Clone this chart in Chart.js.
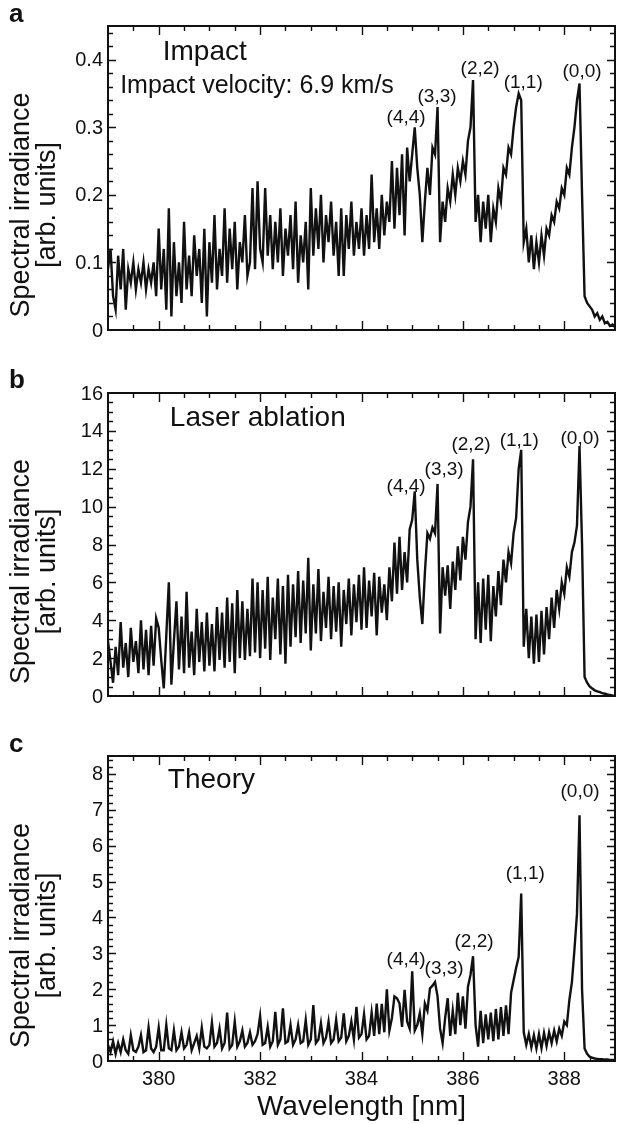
<!DOCTYPE html>
<html>
<head>
<meta charset="utf-8">
<script src="https://cdn.jsdelivr.net/npm/chart.js@4.4.1/dist/chart.umd.min.js"></script>
<style>
  html, body { margin: 0; background: #fff; }
  .figure { position: relative; width: 618px; height: 1124px; overflow: hidden; }
  .panel { position: absolute; left: 0; width: 618px; }
  .panel canvas { display: block; }
</style>
</head>
<body>
<div class="figure">
  <div class="panel" style="top:0;height:355px"><canvas id="chart-a" width="618" height="355"></canvas></div>
  <div class="panel" style="top:355px;height:370px"><canvas id="chart-b" width="618" height="370"></canvas></div>
  <div class="panel" style="top:725px;height:399px"><canvas id="chart-c" width="618" height="399"></canvas></div>
</div>
<script>
// wavelength grid [nm], shared by all three spectra
const wavelengths = [
  379.00, 379.05, 379.10, 379.15, 379.20, 379.25, 379.30, 379.35, 379.40, 379.45, 379.50, 379.55, 379.60, 379.65, 379.70, 379.75, 379.80, 379.85, 379.90, 379.95,
  380.00, 380.05, 380.10, 380.15, 380.20, 380.25, 380.30, 380.35, 380.40, 380.45, 380.50, 380.55, 380.60, 380.65, 380.70, 380.75, 380.80, 380.85, 380.90, 380.95,
  381.00, 381.05, 381.10, 381.15, 381.20, 381.25, 381.30, 381.35, 381.40, 381.45, 381.50, 381.55, 381.60, 381.65, 381.70, 381.75, 381.80, 381.85, 381.90, 381.95,
  382.00, 382.05, 382.10, 382.15, 382.20, 382.25, 382.30, 382.35, 382.40, 382.45, 382.50, 382.55, 382.60, 382.65, 382.70, 382.75, 382.80, 382.85, 382.90, 382.95,
  383.00, 383.05, 383.10, 383.15, 383.20, 383.25, 383.30, 383.35, 383.40, 383.45, 383.50, 383.55, 383.60, 383.65, 383.70, 383.75, 383.80, 383.85, 383.90, 383.95,
  384.00, 384.05, 384.10, 384.15, 384.20, 384.25, 384.30, 384.35, 384.40, 384.45, 384.50, 384.55, 384.60, 384.65, 384.70, 384.75, 384.80, 384.85, 384.90, 384.95,
  385.00, 385.05, 385.10, 385.15, 385.20, 385.25, 385.30, 385.35, 385.40, 385.45, 385.50, 385.55, 385.60, 385.65, 385.70, 385.75, 385.80, 385.85, 385.90, 385.95,
  386.00, 386.05, 386.10, 386.15, 386.20, 386.25, 386.30, 386.35, 386.40, 386.45, 386.50, 386.55, 386.60, 386.65, 386.70, 386.75, 386.80, 386.85, 386.90, 386.95,
  387.00, 387.05, 387.10, 387.15, 387.20, 387.25, 387.30, 387.35, 387.40, 387.45, 387.50, 387.55, 387.60, 387.65, 387.70, 387.75, 387.80, 387.85, 387.90, 387.95,
  388.00, 388.05, 388.10, 388.15, 388.20, 388.25, 388.30, 388.35, 388.40, 388.45, 388.50, 388.55, 388.60, 388.65, 388.70, 388.75, 388.80, 388.85, 388.90, 388.95,
  389.00,
];

// a: impact flash spectrum
const impactIrradiance = [
  0.09, 0.12, 0.05, 0.03, 0.11, 0.06, 0.12, 0.03, 0.09, 0.07, 0.10, 0.06, 0.09, 0.07, 0.10, 0.06, 0.09, 0.07, 0.10, 0.05,
  0.15, 0.06, 0.12, 0.03, 0.18, 0.02, 0.13, 0.05, 0.10, 0.04, 0.16, 0.06, 0.11, 0.05, 0.14, 0.08, 0.12, 0.04, 0.15, 0.02,
  0.13, 0.07, 0.17, 0.06, 0.12, 0.08, 0.18, 0.07, 0.15, 0.09, 0.16, 0.06, 0.13, 0.10, 0.17, 0.08, 0.10, 0.21, 0.09, 0.22,
  0.12, 0.10, 0.21, 0.11, 0.17, 0.09, 0.16, 0.10, 0.18, 0.08, 0.15, 0.11, 0.17, 0.09, 0.19, 0.07, 0.14, 0.10, 0.16, 0.06,
  0.21, 0.11, 0.18, 0.12, 0.20, 0.10, 0.17, 0.13, 0.19, 0.11, 0.16, 0.08, 0.18, 0.08, 0.17, 0.12, 0.19, 0.11, 0.16, 0.12,
  0.18, 0.11, 0.17, 0.12, 0.23, 0.13, 0.18, 0.12, 0.20, 0.14, 0.19, 0.16, 0.25, 0.15, 0.24, 0.17, 0.26, 0.14, 0.27, 0.22,
  0.26, 0.30, 0.24, 0.20, 0.13, 0.19, 0.24, 0.20, 0.27, 0.26, 0.33, 0.13, 0.19, 0.16, 0.21, 0.19, 0.23, 0.20, 0.24, 0.22,
  0.25, 0.23, 0.28, 0.30, 0.37, 0.16, 0.20, 0.13, 0.19, 0.15, 0.20, 0.13, 0.18, 0.16, 0.21, 0.19, 0.24, 0.23, 0.27, 0.26,
  0.30, 0.33, 0.35, 0.34, 0.13, 0.15, 0.10, 0.14, 0.09, 0.13, 0.10, 0.14, 0.11, 0.15, 0.14, 0.17, 0.16, 0.19, 0.18, 0.21,
  0.20, 0.24, 0.23, 0.27, 0.30, 0.34, 0.365, 0.20, 0.05, 0.04, 0.035, 0.03, 0.02, 0.025, 0.015, 0.02, 0.01, 0.012, 0.006, 0.008,
  0.004,
];

// b: laser ablation spectrum
const ablationIrradiance = [
  2.9, 1.8, 0.7, 2.6, 1.1, 3.9, 1.5, 2.8, 1.0, 3.6, 1.8, 2.9, 1.2, 4.0, 1.4, 3.5, 1.1, 3.7, 1.6, 4.1,
  3.6, 1.9, 0.4, 3.2, 6.0, 0.6, 2.9, 5.0, 1.4, 4.2, 1.2, 5.5, 1.5, 3.4, 1.1, 4.6, 1.8, 3.9, 1.3, 4.4,
  1.6, 3.8, 1.3, 4.7, 1.9, 4.4, 1.5, 5.2, 1.8, 4.9, 1.2, 5.6, 2.0, 5.0, 1.9, 4.6, 2.1, 6.2, 2.3, 6.0,
  2.0, 5.6, 2.5, 6.3, 1.9, 5.2, 3.0, 6.2, 2.2, 5.8, 1.7, 6.4, 2.6, 5.9, 3.1, 6.6, 2.8, 6.1, 3.3, 7.3,
  2.4, 5.9, 3.3, 6.7, 2.9, 5.5, 3.6, 6.3, 3.0, 5.8, 3.4, 6.0, 2.6, 5.6, 3.8, 6.2, 3.2, 5.9, 3.9, 6.4,
  3.5, 6.8, 3.6, 6.1, 4.2, 6.5, 3.2, 6.3, 4.4, 5.9, 4.0, 6.8, 5.0, 8.1, 5.4, 8.4, 5.6, 7.6, 6.0, 8.8,
  9.3, 10.8, 7.2, 5.2, 3.8, 6.5, 8.6, 8.3, 8.9, 8.6, 11.2, 3.3, 6.8, 5.3, 6.9, 4.6, 7.1, 5.6, 7.9, 6.1,
  8.4, 7.2, 9.2, 10.0, 12.5, 3.0, 6.0, 2.8, 6.2, 3.5, 6.4, 2.9, 5.8, 4.2, 6.6, 4.8, 7.2, 6.0, 7.6, 7.0,
  8.6, 9.4, 12.0, 13.0, 2.6, 4.6, 2.0, 4.2, 1.7, 4.3, 1.8, 4.5, 2.2, 4.7, 3.0, 5.2, 3.6, 5.6, 4.6, 6.0,
  5.4, 6.8, 6.3, 7.6, 8.1, 9.0, 13.2, 8.0, 1.0, 0.7, 0.5, 0.4, 0.3, 0.25, 0.2, 0.15, 0.12, 0.08, 0.05, 0.03,
  0.02,
];

// c: theoretical spectrum
const theoryIrradiance = [
  0.45, 0.25, 0.55, 0.2, 0.5, 0.25, 0.6, 0.3, 0.2, 0.72, 0.3, 0.25, 0.4, 0.72, 0.25, 0.3, 0.93, 0.35, 0.25, 0.4,
  0.93, 0.3, 0.3, 1.0, 0.35, 0.3, 0.85, 0.3, 0.4, 0.8, 0.35, 0.45, 0.8, 0.3, 0.5, 0.7, 0.35, 0.93, 0.4, 0.35,
  0.45, 1.07, 0.4, 0.5, 0.9, 0.35, 0.5, 1.35, 0.35, 0.45, 1.1, 0.4, 0.55, 0.85, 0.4, 0.5, 0.8, 0.45, 0.55, 0.75,
  1.25, 0.45, 0.5, 0.95, 0.4, 0.55, 1.37, 0.45, 0.6, 1.47, 0.5, 0.55, 1.0, 0.45, 0.6, 1.0, 0.5, 0.55, 1.14, 0.45,
  0.6, 1.56, 0.5, 0.6, 1.05, 0.5, 0.65, 1.1, 0.5, 0.6, 1.15, 0.55, 0.65, 1.33, 0.55, 0.7, 1.1, 0.6, 1.51, 0.65,
  0.75, 1.3, 0.6, 0.7, 1.35, 0.7, 1.6, 0.75, 1.59, 0.8, 2.0, 0.85, 1.2, 1.8, 1.75, 1.6, 0.95, 1.98, 1.1, 0.9,
  2.5, 0.85, 1.0, 1.33, 0.75, 1.6, 1.4, 2.02, 2.1, 2.2, 1.8, 0.9, 0.5, 1.2, 1.75, 0.7, 1.4, 0.75, 1.9, 1.0,
  1.8, 0.9, 2.07, 2.4, 2.92, 1.0, 0.4, 1.4, 0.5, 1.3, 0.6, 1.35, 0.55, 1.45, 0.6, 1.5, 0.7, 1.55, 0.75, 1.9,
  2.25, 2.6, 2.9, 4.67, 0.8, 0.45, 0.75, 0.38, 0.72, 0.35, 0.75, 0.36, 0.78, 0.42, 0.8, 0.5, 0.85, 0.55, 0.9, 0.7,
  1.1, 1.0, 1.7, 2.2, 3.1, 4.1, 6.85, 2.0, 0.35, 0.2, 0.12, 0.09, 0.07, 0.06, 0.05, 0.05, 0.04, 0.04, 0.03, 0.03,
  0.02,
];

const wavelengthTicks = [380, 382, 384, 386, 388];
const impactTicks = [0, 0.1, 0.2, 0.3, 0.4];
const ablationTicks = [0, 2, 4, 6, 8, 10, 12, 14, 16];
const theoryTicks = [0, 1, 2, 3, 4, 5, 6, 7, 8];

// band heads, label anchors in [nm, value]
const bandLabels = ["(4,4)", "(3,3)", "(2,2)", "(1,1)", "(0,0)"];
const impactBandPos = [[384.88, 0.314], [385.49, 0.345], [386.34, 0.386], [387.19, 0.366], [388.35, 0.382]];
const ablationBandPos = [[384.88, 11.05], [385.63, 11.93], [386.16, 13.25], [387.11, 13.5], [388.31, 13.6]];
const theoryBandPos = [[384.88, 2.83], [385.63, 2.58], [386.22, 3.33], [387.23, 5.21], [388.31, 7.5]];

const FONT = '"Liberation Sans", Arial, Helvetica, sans-serif';
const INK = "#111";

function toPoints(values) {
  return wavelengths.map((w, i) => ({ x: w, y: values[i] }));
}

// frame, inward ticks, labels and notes, all placed through the chart scales
const panelDecor = {
  id: "panelDecor",
  afterDraw(chart, args, opts) {
    const { ctx, chartArea: area, scales } = chart;
    const xs = scales.x;
    const ys = scales.y;
    ctx.save();
    ctx.strokeStyle = INK;
    ctx.fillStyle = INK;

    // x ticks every 0.5 nm, long ones at labelled values
    ctx.lineWidth = 1.4;
    ctx.beginPath();
    const xCount = Math.round((xs.max - xs.min) / 0.5);
    for (let k = 1; k < xCount; k++) {
      const v = xs.min + k * 0.5;
      const px = Math.round(xs.getPixelForValue(v)) + 0.5;
      const len = wavelengthTicks.includes(v) ? 9 : 5;
      ctx.moveTo(px, area.bottom);
      ctx.lineTo(px, area.bottom - len);
      ctx.moveTo(px, area.top);
      ctx.lineTo(px, area.top + len);
    }
    // y ticks
    const yCount = Math.round(ys.max / opts.yMinor);
    for (let k = 1; k <= yCount; k++) {
      const v = k * opts.yMinor;
      const ratio = v / opts.yMajor;
      const major = Math.abs(ratio - Math.round(ratio)) < 1e-6;
      const py = Math.round(ys.getPixelForValue(v)) + 0.5;
      if (py <= area.top + 1) continue;
      const len = major ? 8 : 5;
      ctx.moveTo(area.left, py);
      ctx.lineTo(area.left + len, py);
      ctx.moveTo(area.right, py);
      ctx.lineTo(area.right - len, py);
    }
    ctx.stroke();

    ctx.lineWidth = 2;
    ctx.strokeRect(area.left, area.top, area.right - area.left, area.bottom - area.top);

    // y tick labels
    ctx.font = `20px ${FONT}`;
    ctx.textAlign = "right";
    ctx.textBaseline = "middle";
    opts.yTicks.forEach((v) => {
      ctx.fillText(String(v), area.left - 5, ys.getPixelForValue(v) + 1);
    });

    // x tick labels and title (bottom panel only)
    if (opts.showX) {
      ctx.textAlign = "center";
      ctx.textBaseline = "top";
      wavelengthTicks.forEach((v) => {
        ctx.fillText(String(v), xs.getPixelForValue(v), area.bottom + 8);
      });
      ctx.font = `28px ${FONT}`;
      ctx.textBaseline = "middle";
      ctx.fillText("Wavelength [nm]", (area.left + area.right) / 2, area.bottom + 46);
    }

    // y title, two lines
    const midY = (area.top + area.bottom) / 2 + 27;
    ctx.font = `27px ${FONT}`;
    ctx.textAlign = "center";
    ctx.textBaseline = "middle";
    [["Spectral irradiance", 22], ["[arb. units]", 48]].forEach(([txt, x]) => {
      ctx.save();
      ctx.translate(x, midY);
      ctx.rotate(-Math.PI / 2);
      ctx.fillText(txt, 0, 0);
      ctx.restore();
    });

    // panel letter
    ctx.font = `bold 26px ${FONT}`;
    ctx.textAlign = "left";
    ctx.textBaseline = "alphabetic";
    ctx.fillText(opts.letter, 9, opts.letterY);

    // notes inside the plot
    opts.notes.forEach((n) => {
      ctx.font = `${n.size}px ${FONT}`;
      ctx.textAlign = "left";
      ctx.textBaseline = "middle";
      ctx.fillText(n.text, xs.getPixelForValue(n.at[0]), ys.getPixelForValue(n.at[1]));
    });
    ctx.font = `19px ${FONT}`;
    ctx.textAlign = "center";
    ctx.textBaseline = "middle";
    opts.bandPos.forEach((p, i) => {
      ctx.fillText(bandLabels[i], xs.getPixelForValue(p[0]), ys.getPixelForValue(p[1]));
    });
    ctx.restore();
  },
};

function makePanel(id, values, yMax, padding, decor) {
  const canvas = document.getElementById(id);
  return new Chart(canvas.getContext("2d"), {
    type: "line",
    data: {
      datasets: [
        {
          data: toPoints(values),
          borderColor: INK,
          borderWidth: 2.4,
          borderJoinStyle: "miter",
          pointRadius: 0,
          tension: 0,
          fill: false,
        },
      ],
    },
    options: {
      responsive: false,
      animation: false,
      events: [],
      layout: { padding },
      plugins: { legend: { display: false }, tooltip: { enabled: false }, panelDecor: decor },
      scales: {
        x: { type: "linear", min: 379, max: 389, display: false },
        y: { type: "linear", min: 0, max: yMax, display: false },
      },
    },
    plugins: [panelDecor],
  });
}

makePanel("chart-a", impactIrradiance, 0.45, { top: 26, bottom: 25, left: 108, right: 3 }, {
  letter: "a", letterY: 22, yTicks: impactTicks, yMajor: 0.1, yMinor: 0.02, showX: false,
  bandPos: impactBandPos,
  notes: [
    { text: "Impact", at: [380.08, 0.4115], size: 28 },
    { text: "Impact velocity: 6.9 km/s", at: [379.24, 0.361], size: 25 },
  ],
});

makePanel("chart-b", ablationIrradiance, 16, { top: 38, bottom: 29, left: 108, right: 3 }, {
  letter: "b", letterY: 33, yTicks: ablationTicks, yMajor: 2, yMinor: 0.5, showX: false,
  bandPos: ablationBandPos,
  notes: [{ text: "Laser ablation", at: [380.22, 14.68], size: 28 }],
});

makePanel("chart-c", theoryIrradiance, 8.5, { top: 31, bottom: 63, left: 108, right: 3 }, {
  letter: "c", letterY: 27, yTicks: theoryTicks, yMajor: 1, yMinor: 0.2, showX: true,
  bandPos: theoryBandPos,
  notes: [{ text: "Theory", at: [380.18, 7.83], size: 28 }],
});
</script>
</body>
</html>
